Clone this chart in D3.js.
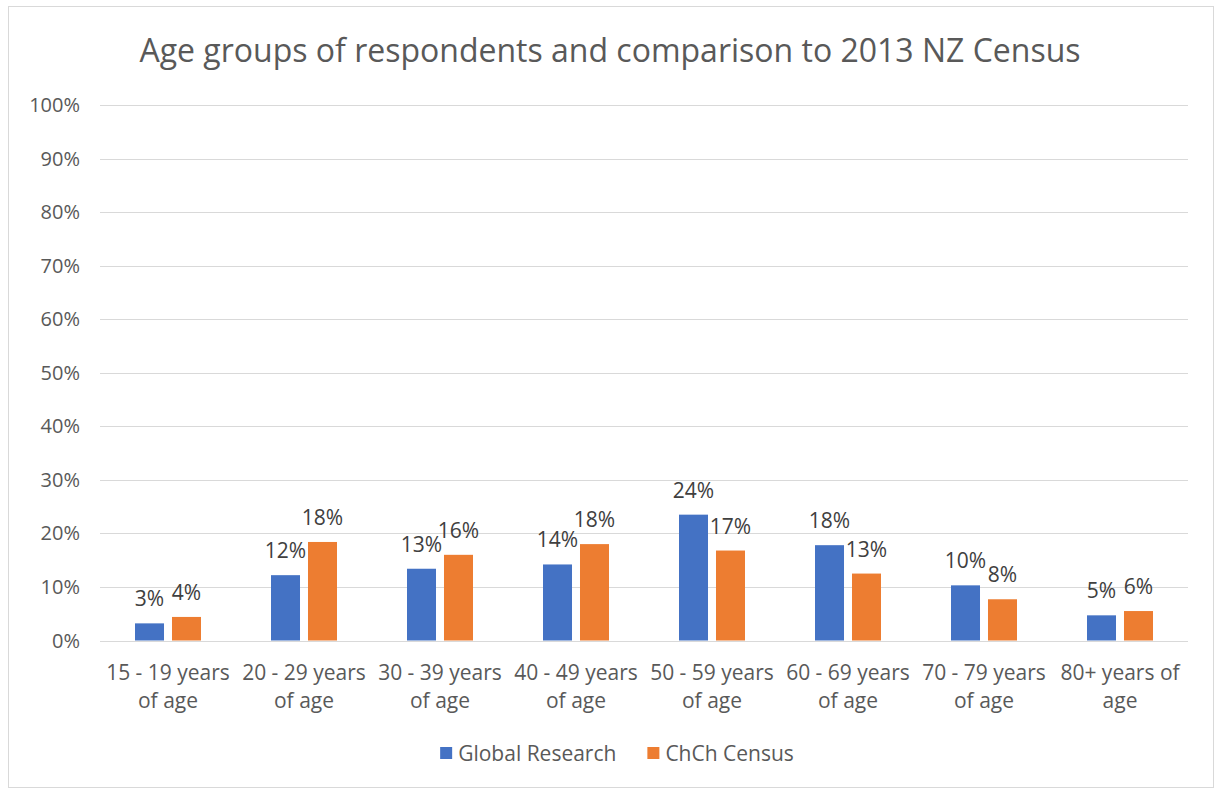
<!DOCTYPE html>
<html lang="en">
<head>
    <meta charset="UTF-8">
    <title>Age groups of respondents</title>
    <style>
        body { margin: 0; background: #fff; }
        svg text { font-family: 'Open Sans', sans-serif; }
    </style>
    <script src="https://d3js.org/d3.v7.min.js"></script>
</head>
<body>
    <svg width="1214" height="788"></svg>
    <script>
        const categories = ["15 - 19 years of age", "20 - 29 years of age", "30 - 39 years of age",
            "40 - 49 years of age", "50 - 59 years of age", "60 - 69 years of age",
            "70 - 79 years of age", "80+ years of age"];
        const seriesNames = ["Global Research", "ChCh Census"];
        const globalResearch = [0.032, 0.122, 0.134, 0.142, 0.235, 0.178, 0.103, 0.047];
        const chchCensus = [0.044, 0.184, 0.160, 0.180, 0.168, 0.125, 0.077, 0.055];
        const yTicks = [0, 0.1, 0.2, 0.3, 0.4, 0.5, 0.6, 0.7, 0.8, 0.9, 1.0];
        const colors = ["#4472C4", "#ED7D31"];

        const width = 1214, height = 788;
        const margin = { top: 105, right: 26, bottom: 147.5, left: 100 };
        const svg = d3.select("svg");

        // chart frame
        svg.append("rect")
            .attr("x", 8.5).attr("y", 6.5)
            .attr("width", width - 9).attr("height", height - 7)
            .attr("fill", "white").attr("stroke", "#d9d9d9");

        const x = d3.scaleBand()
            .domain(categories)
            .range([margin.left, width - margin.right])
            .padding(0);

        const x1 = d3.scaleBand()
            .domain(seriesNames)
            .range([0, x.bandwidth()])
            .paddingInner(0.216)
            .paddingOuter(0.946);

        const y = d3.scaleLinear()
            .domain([0, 1])
            .range([height - margin.bottom, margin.top]);

        // gridlines
        svg.append("g")
            .selectAll("line")
            .data(yTicks)
            .enter().append("line")
            .attr("x1", margin.left).attr("x2", width - margin.right)
            .attr("y1", d => Math.round(y(d)) + 0.5).attr("y2", d => Math.round(y(d)) + 0.5)
            .attr("stroke", "#d9d9d9").attr("stroke-width", 1);

        // y labels
        svg.append("g")
            .selectAll("text")
            .data(yTicks)
            .enter().append("text")
            .attr("x", 80)
            .attr("y", d => y(d))
            .attr("dy", "0.35em")
            .attr("text-anchor", "end")
            .style("font-size", "20px")
            .style("fill", "#595959")
            .text(d => d3.format(".0%")(d));

        const rows = categories.map((c, i) => ({ cat: c, values: [globalResearch[i], chchCensus[i]] }));

        const groups = svg.selectAll("g.cat")
            .data(rows)
            .enter().append("g")
            .attr("class", "cat")
            .attr("transform", d => `translate(${x(d.cat)},0)`);

        groups.selectAll("rect")
            .data(d => d.values.map((v, j) => ({ key: seriesNames[j], value: v, j: j })))
            .enter().append("rect")
            .attr("x", d => x1(d.key))
            .attr("y", d => y(d.value))
            .attr("width", x1.bandwidth())
            .attr("height", d => y(0) - y(d.value))
            .attr("fill", d => colors[d.j]);

        groups.selectAll("text.val")
            .data(d => d.values.map((v, j) => ({ key: seriesNames[j], value: v })))
            .enter().append("text")
            .attr("class", "val")
            .attr("x", d => x1(d.key) + x1.bandwidth() / 2)
            .attr("y", d => y(d.value) - 17)
            .attr("text-anchor", "middle")
            .style("font-size", "21px")
            .style("fill", "#404040")
            .text(d => d3.format(".0%")(d.value));

        // category labels, wrapped to band width
        const catLabels = svg.append("g")
            .selectAll("text")
            .data(categories)
            .enter().append("text")
            .attr("x", d => x(d) + x.bandwidth() / 2)
            .attr("y", 680)
            .attr("text-anchor", "middle")
            .style("font-size", "21px")
            .style("fill", "#595959");

        catLabels.each(function(d) {
            const text = d3.select(this);
            const words = d.split(/\s+/);
            let line = [];
            let tspan = text.append("tspan").attr("x", x(d) + x.bandwidth() / 2).attr("dy", 0);
            words.forEach(w => {
                line.push(w);
                tspan.text(line.join(" "));
                if (tspan.node().getComputedTextLength() > x.bandwidth() - 4 && line.length > 1) {
                    line.pop();
                    tspan.text(line.join(" "));
                    line = [w];
                    tspan = text.append("tspan")
                        .attr("x", x(d) + x.bandwidth() / 2)
                        .attr("dy", "28px")
                        .text(w);
                }
            });
        });

        // legend
        const legend = svg.append("g");
        let lx = 0;
        seriesNames.forEach((s, i) => {
            const g = legend.append("g").attr("transform", `translate(${lx},0)`);
            g.append("rect").attr("x", 0).attr("y", -14).attr("width", 12).attr("height", 12).attr("fill", colors[i]);
            const t = g.append("text").attr("x", 18).attr("y", 0)
                .style("font-size", "21px").style("fill", "#595959").text(s);
            lx += 18 + t.node().getComputedTextLength() + 31;
        });
        const legendW = lx - 31;
        legend.attr("transform", `translate(${617 - legendW / 2},761)`);

        svg.append("text")
            .attr("x", 610)
            .attr("y", 62)
            .attr("text-anchor", "middle")
            .style("font-size", "32px")
            .style("fill", "#595959")
            .text("Age groups of respondents and comparison to 2013 NZ Census");
    </script>
</body>
</html>
